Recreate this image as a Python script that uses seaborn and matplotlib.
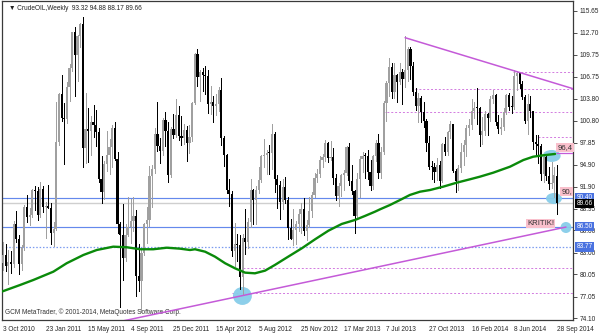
import matplotlib
matplotlib.use("Agg")
import matplotlib.pyplot as plt
import matplotlib.transforms as mtransforms
from matplotlib.patches import Ellipse
import seaborn as sns
import pandas as pd
import numpy as np

sns.set_style("white")
plt.rcParams['font.family'] = ['Liberation Sans', 'DejaVu Sans']

# ---------------- data ----------------
first_week = "2010-10-03"

opens = [81.58, 82.66, 81.25, 81.69, 81.43, 86.85, 84.88, 81.51, 83.76, 89.19, 87.79, 88.02, 91.51,
         91.38, 88.03, 91.54, 89.11, 89.34, 89.03, 85.58, 86.20, 97.88, 104.42, 101.16, 101.07, 105.40,
         107.94, 112.79, 109.66, 112.29, 113.93, 97.18, 99.65, 99.49, 100.59, 100.22, 99.29, 93.01, 91.16,
         94.94, 96.20, 97.24, 99.87, 95.70, 86.88, 85.38, 82.26, 85.37, 86.45, 87.24, 87.96, 79.85, 79.20,
         82.98, 86.80, 87.40, 93.32, 94.26, 98.99, 97.41, 96.77, 100.96, 99.41, 93.53, 99.68,
         98.83, 101.56, 98.70, 98.46, 99.56, 97.84, 98.67, 103.24, 109.77, 106.70, 107.40, 107.06, 106.87,
         103.02, 103.31, 102.83, 103.05, 104.93, 98.49, 96.13, 91.48, 90.86, 83.23, 84.10, 84.03, 79.76,
         84.96, 84.45, 87.10, 91.44, 90.13, 91.40, 92.87, 96.01, 96.15, 96.47, 96.42, 99.00, 92.89, 92.19,
         89.88, 91.86, 90.05, 86.28, 84.86, 86.07, 86.92, 88.28, 88.91, 85.93, 86.73, 88.66,
         90.80, 93.09, 93.56, 95.56, 95.88, 97.77, 95.72, 95.86, 93.13, 90.68, 91.95, 93.45, 93.71,
         97.23, 92.70, 91.29, 88.01, 93.00, 95.61, 96.04, 96.02, 93.84, 91.97, 96.03, 97.85, 93.69,
         96.56, 103.22, 105.95, 108.05, 104.70, 106.94, 106.03, 107.46, 106.42, 107.65, 110.53, 108.21,
         104.67, 102.87, 103.84, 102.02, 100.81, 97.85, 94.61, 94.60, 93.84, 94.84, 92.72, 97.65, 96.60, 99.32,
         100.32, 93.96, 92.72, 94.37, 96.64, 97.49, 99.88, 100.30, 102.20, 102.59, 102.58, 98.89, 99.46,
         101.67, 101.14, 103.74, 104.30, 100.60, 99.76, 99.99, 102.02, 104.35, 102.71, 102.66, 106.91,
         107.26, 105.74, 104.06, 100.83, 103.13, 102.09, 97.88, 97.65, 97.35, 93.65, 95.96, 93.29, 92.27,
         92.41, 93.32]

highs = [84.43, 84.22, 83.31, 83.15, 87.22, 88.63, 85.37, 84.00, 89.38, 90.76, 89.00, 91.63, 92.06,
         91.83, 92.58, 92.00, 89.90, 92.19, 89.65, 87.15, 103.41, 104.60, 106.95, 103.19, 106.09, 108.47,
         112.85, 113.46, 112.46, 113.97, 114.83, 104.60, 102.55, 101.50, 102.94, 102.28, 99.77, 95.99, 95.42,
         99.41, 98.32, 100.24, 100.62, 96.60, 87.18, 89.50, 86.89, 90.52, 90.24, 90.52, 88.79, 84.18, 83.45,
         86.94, 89.17, 94.65, 94.88, 99.87, 103.37, 98.44, 101.18, 101.95, 100.62, 100.00, 101.77,
         103.74, 102.78, 101.44, 100.40, 100.12, 100.19, 103.35, 109.95, 110.55, 107.70, 108.00, 108.24,
         107.73, 105.49, 104.17, 104.42, 105.40, 106.55, 98.80, 96.36, 92.88, 91.35, 87.00, 85.50, 85.40,
         85.50, 88.95, 87.62, 92.94, 91.65, 91.99, 94.50, 96.20, 98.29, 96.90, 97.60, 100.42, 99.30, 93.50,
         92.71, 93.00, 93.25, 90.55, 87.50, 88.89, 87.30, 88.84, 89.69, 90.33, 87.40, 90.54, 91.25,
         93.80, 94.29, 96.00, 96.30, 98.24, 97.98, 98.14, 97.19, 93.60, 92.40, 93.57, 94.12, 97.35,
         97.80, 94.88, 91.40, 93.75, 96.05, 96.60, 96.40, 96.80, 95.45, 96.15, 98.28, 99.07, 97.28,
         103.55, 106.20, 109.32, 108.58, 108.56, 107.14, 108.60, 107.85, 112.24, 110.76, 110.74, 108.72,
         105.23, 104.50, 104.15, 103.40, 101.00, 98.70, 95.35, 95.17, 95.81, 95.44, 97.87, 98.60, 99.45,
         100.75, 100.40, 94.29, 94.80, 97.84, 98.24, 100.31, 101.00, 103.76, 103.35, 105.22, 102.71,
         101.33, 102.20, 101.85, 104.19, 104.99, 104.47, 101.60, 101.20, 102.56, 104.45, 104.63, 104.10,
         107.68, 107.50, 107.27, 106.17, 104.25, 104.43, 104.22, 102.20, 98.88, 98.83, 97.74, 96.19,
         96.31, 94.50, 95.29, 94.60, 94.88]

lows = [80.58, 80.50, 78.72, 80.27, 81.09, 84.41, 80.06, 80.63, 83.30, 87.11, 86.72, 87.80, 88.81,
        87.40, 87.78, 88.50, 84.94, 89.00, 84.20, 83.85, 86.00, 97.50, 100.80, 94.98, 100.55, 103.50,
        107.50, 104.10, 106.20, 110.84, 94.63, 95.05, 95.30, 96.20, 98.60, 97.40, 92.52, 89.69, 90.20,
        94.00, 93.60, 94.52, 95.45, 85.70, 75.71, 79.25, 81.90, 85.24, 84.30, 85.90, 77.11, 77.76, 74.95,
        82.64, 84.30, 86.53, 89.17, 93.80, 96.67, 95.05, 96.20, 97.45, 92.52, 93.20, 98.50,
        98.60, 98.15, 97.60, 97.63, 95.44, 96.43, 98.04, 103.08, 105.55, 103.55, 104.80, 104.42,
        101.91, 101.75, 100.68, 101.56, 102.20, 97.51, 94.65, 91.10, 89.25, 82.53, 81.21, 81.80, 78.10,
        77.28, 82.80, 83.65, 86.45, 86.85, 86.86, 91.10, 92.55, 94.50, 93.60, 93.63, 94.25, 91.18, 89.06,
        87.54, 88.90, 89.70, 84.90, 84.86, 84.05, 84.11, 85.88, 85.62, 85.39, 84.70, 86.50, 87.82,
        90.50, 92.56, 93.20, 94.50, 95.40, 95.25, 95.50, 92.24, 90.05, 89.33, 90.70, 91.47, 93.50,
        92.10, 90.95, 85.61, 87.85, 90.52, 93.86, 93.08, 92.92, 91.46, 91.54, 95.33, 93.05, 93.12,
        96.30, 100.85, 104.20, 103.85, 103.95, 103.33, 105.75, 103.10, 105.35, 106.20, 106.50, 104.35,
        102.22, 100.62, 100.70, 100.00, 96.67, 94.35, 93.01, 92.51, 92.75, 91.77, 92.60, 96.20, 96.18,
        98.55, 93.86, 91.24, 91.50, 93.84, 94.88, 96.02, 98.92, 99.75, 101.25, 100.40, 97.37,
        97.70, 98.95, 98.87, 100.75, 103.19, 100.25, 99.16, 98.96, 99.50, 101.78, 102.26, 101.93,
        102.40, 105.02, 105.29, 103.76, 100.51, 99.00, 101.30, 97.05, 96.11, 95.11, 92.82, 92.50,
        92.75, 91.56, 91.75, 90.47, 88.17]

closes = [82.66, 81.25, 81.69, 81.43, 86.85, 84.88, 81.51, 83.76, 89.19, 87.79, 88.02, 91.51, 91.38,
          88.03, 91.54, 89.11, 89.34, 89.03, 85.58, 86.20, 97.88, 104.42, 101.16, 101.07, 105.40, 107.94,
          112.79, 109.66, 112.29, 113.93, 97.18, 99.65, 99.49, 100.59, 100.22, 99.29, 93.01, 91.16, 94.94,
          96.20, 97.24, 99.87, 95.70, 86.88, 85.38, 82.26, 85.37, 86.45, 87.24, 87.96, 79.85, 79.20, 82.98,
          86.80, 87.40, 93.32, 94.26, 98.99, 97.41, 96.77, 100.96, 99.41, 93.53, 99.68, 98.83,
          101.56, 98.70, 98.46, 99.56, 97.84, 98.67, 103.24, 109.77, 106.70, 107.40, 107.06, 106.87,
          103.02, 103.31, 102.83, 103.05, 104.93, 98.49, 96.13, 91.48, 90.86, 83.23, 84.10, 84.03, 79.76,
          84.96, 84.45, 87.10, 91.44, 90.13, 91.40, 92.87, 96.01, 96.15, 96.47, 96.42, 99.00, 92.89, 92.19,
          89.88, 91.86, 90.05, 86.28, 84.86, 86.07, 86.92, 88.28, 88.91, 85.93, 86.73, 88.66, 90.80,
          93.09, 93.56, 95.56, 95.88, 97.77, 95.72, 95.86, 93.13, 90.68, 91.95, 93.45, 93.71, 97.23,
          92.70, 91.29, 88.01, 93.00, 95.61, 96.04, 96.02, 93.84, 91.97, 96.03, 97.85, 93.69, 96.56,
          103.22, 105.95, 108.05, 104.70, 106.94, 106.03, 107.46, 106.42, 107.65, 110.53, 108.21, 104.67,
          102.87, 103.84, 102.02, 100.81, 97.85, 94.61, 94.60, 93.84, 94.84, 92.72, 97.65, 96.60, 99.32,
          100.32, 93.96, 92.72, 94.37, 96.64, 97.49, 99.88, 100.30, 102.20, 102.59, 102.58, 98.89, 99.46,
          101.67, 101.14, 103.74, 104.30, 100.60, 99.76, 99.99, 102.02, 104.35, 102.71, 102.66, 106.91,
          107.26, 105.74, 104.06, 100.83, 103.13, 102.09, 97.88, 97.65, 97.35, 93.65, 95.96, 93.29, 92.27,
          92.41, 93.54, 89.66]

# moving average line
ma_week = [-0.5, 6.4, 11.4, 18.9, 23.9, 30.2, 35.2, 41.4, 46.5, 51.5, 56.4, 61.5, 66.5, 70.2, 72.1,
           75.9, 79.6, 83.4, 87.1, 90.9, 94.6, 98.4, 102.1, 107.1, 112.2, 117.2, 122.2, 127.2, 132.2,
           135.9, 139.7, 141.6, 145.3, 149.1, 152.8, 156.6, 160.4, 165.3, 170.4, 175.4, 179.1, 184.1,
           190.4, 195.4, 199.1, 202.9, 207.3]
ma_value = [77.72, 78.62, 79.30, 80.42, 81.56, 82.68, 83.35, 83.80, 83.72, 83.45, 83.45, 83.66, 83.53,
            83.35, 83.45, 83.12, 82.45, 81.56, 80.88, 80.29, 80.20, 80.56, 81.33, 82.45, 83.58, 84.80,
            85.96, 86.87, 87.41, 87.95, 88.53, 88.85, 89.43, 90.11, 90.79, 91.23, 91.46, 91.91, 92.45,
            92.91, 93.26, 93.80, 94.61, 95.51, 95.96, 96.15, 96.33]

# trend lines (week index, price)
support_week = [40.0, 211.4]
support_price = [73.38, 86.45]
resist_week = [151.0, 214.4]
resist_price = [112.04, 105.11]

# horizontal levels
blue_levels = [90.40, 86.50]
blue_dotted_level = 83.77
last_price = 89.66
pink_levels = [107.45, 105.07, 101.96, 98.67, 80.88, 77.50]
pink_level_start = [191.5, 154.7, 142.7, 200.9, 90.1, 86.0]

ytick_values = [115.65, 112.70, 109.75, 106.75, 103.80, 100.80, 97.85, 94.90, 91.90, 88.95,
                86.00, 83.00, 80.05, 77.05, 74.10]
xtick_weeks = list(range(0, 209, 16))

# ---------------- figure ----------------
n = len(closes)
weeks = pd.date_range(first_week, periods=n, freq="7D")
df = pd.DataFrame({"i": np.arange(n), "open": opens, "high": highs, "low": lows, "close": closes})

W, H = 600, 333
fig = plt.figure(figsize=(W / 100, H / 100), dpi=100)
ax = fig.add_axes([2 / W, (H - 320) / H, 571 / W, 319 / H])
ax.set_facecolor("white")

FS = 4.7
bull_c = "#a0a0a0"
bear_c = "#000000"

# horizontal lines
for lv in blue_levels:
    ax.axhline(lv, color="#6489ec", lw=0.85, zorder=1)
ax.axhline(blue_dotted_level, color="#7b9bf0", lw=0.9, ls=(0, (1.2, 1.5)), zorder=1)
ax.axhline(last_price, color="#cfcfcf", lw=1.0, zorder=1)
for lv, st in zip(pink_levels, pink_level_start):
    ax.hlines(lv, st, 216, color="#d27ae0", lw=0.7, ls=(0, (2, 2)), zorder=1)

# circles
circles = [(206.0, 96.06, 6.8, 1.62), (206.9, 90.31, 6.0, 1.49), (211.4, 86.39, 4.1, 1.49),
           (89.9, 77.14, 7.1, 2.43)]
for cx, cy, w, h in circles:
    ax.add_patch(Ellipse((cx, cy), w, h, facecolor="#87cde9", edgecolor="none", alpha=0.95, zorder=2))

# candles
for r in df.itertuples():
    col = bull_c if r.close >= r.open else bear_c
    ax.vlines(r.i, r.low, r.high, color=col, lw=0.72, zorder=3, antialiased=False)
    lo = min(r.open, r.close)
    hgt = max(abs(r.close - r.open), 0.14)
    ax.bar(r.i, hgt, bottom=lo, width=0.82, color=col, edgecolor="none", zorder=3, antialiased=False)

# moving average
sns.lineplot(x=ma_week, y=ma_value, ax=ax, color="#0a8a0a", lw=1.7, zorder=4)

# trend lines
ax.plot(support_week, support_price, color="#c45ad8", lw=1.1, zorder=4)
ax.plot(resist_week, resist_price, color="#c45ad8", lw=1.1, zorder=4)
ax.hlines(96.4, 207.5, 216, color="#c45ad8", lw=0.9, zorder=4)

# annotation labels
pink_bg = dict(boxstyle="square,pad=0.15", fc="#f9c0cc", ec="none")
ax.text(208.2, 97.2, "96,4", fontsize=5.6, color="#333333", va="center", ha="left", bbox=pink_bg, zorder=5)
ax.text(209.6, 91.3, "90,", fontsize=5.6, color="#333333", va="center", ha="left", bbox=pink_bg, zorder=5)
ax.text(196.8, 86.9, "KRITIK!", fontsize=5.6, color="#333333", va="center", ha="left", bbox=pink_bg, zorder=5)

# axes formatting
ax.set_xlim(-0.38, 214.04)
ax.set_ylim(73.89, 117.0)
ax.yaxis.tick_right()
ax.set_yticks(ytick_values)
ax.set_yticklabels([f"{v:.2f}" for v in ytick_values], fontsize=FS)
ax.set_xticks(xtick_weeks)
ax.set_xticklabels([weeks[k].strftime("%-d %b %Y") for k in xtick_weeks], fontsize=FS, ha="left")
ax.tick_params(axis="both", length=3, width=0.6, color="#333333", pad=1.5, direction="out")
ax.tick_params(axis="y", pad=2)
for s in ax.spines.values():
    s.set_color("#3a3a3a")
    s.set_linewidth(0.9)
ax.set_xlabel("")
ax.set_ylabel("")
if ax.get_legend():
    ax.get_legend().remove()

# right-axis price boxes
trans = mtransforms.blended_transform_factory(ax.transAxes, ax.transData)
boxes = [(90.40, "90.40", "#4a72e0"), (89.66, "89.66", "#000000"), (86.50, "86.50", "#4a72e0"),
         (83.77, "83.77", "#4a72e0")]
for val, lab, colr in boxes:
    ax.text(1.006, val, lab, transform=trans, fontsize=FS, color="white", va="center", ha="left",
            bbox=dict(boxstyle="square,pad=0.2", fc=colr, ec="none"), zorder=6, clip_on=False)

# header and footer text
ax.text(0.012, 0.978, "\u25bc CrudeOIL,Weekly  93.32 94.88 88.17 89.66", transform=ax.transAxes,
        fontsize=FS, va="center", ha="left", color="#222222")
ax.text(0.005, 0.012, "GCM MetaTrader, \u00a9 2001-2014, MetaQuotes Software Corp.", transform=ax.transAxes,
        fontsize=FS, va="bottom", ha="left", color="#333333")

fig.savefig("out.png", dpi=100, facecolor="white")
